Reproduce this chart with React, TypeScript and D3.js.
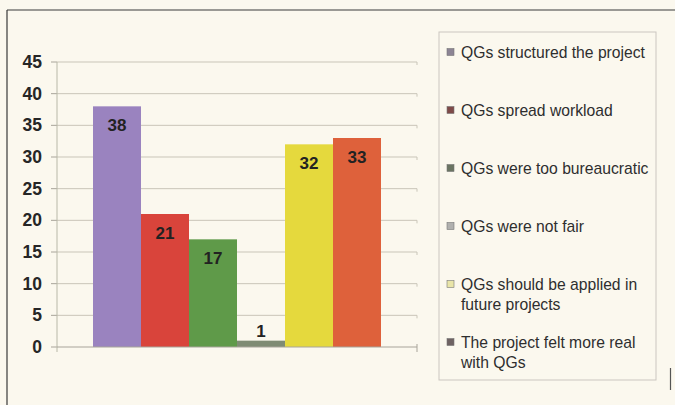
import React from "react";
import * as d3 from "d3";

const categories = [
  "QGs structured the project",
  "QGs spread workload",
  "QGs were too bureaucratic",
  "QGs were not fair",
  "QGs should be applied in future projects",
  "The project felt more real with QGs",
];
const values = [38, 21, 17, 1, 32, 33];
const barColors = ["#9a83bf", "#d9443b", "#5f9a49", "#7f8c74", "#e5d93d", "#de613b"];
const legendLines = [
  ["QGs structured the project"],
  ["QGs spread workload"],
  ["QGs were too bureaucratic"],
  ["QGs were not fair"],
  ["QGs should be applied in", "future projects"],
  ["The project felt more real", "with QGs"],
];
const legendSwatch = ["#8c8494", "#7e4a48", "#6a7462", "#b0b0ae", "#e9e5a8", "#6e6262"];
const yTicks = [0, 5, 10, 15, 20, 25, 30, 35, 40, 45];

export default function App() {
  const W = 675, H = 405;
  const plotL = 57, plotR = 417, plotT = 62, plotB = 347;
  const y = d3.scaleLinear().domain([0, 45]).range([plotB, plotT]);
  const x = d3
    .scaleBand<string>()
    .domain(categories)
    .range([plotL, plotR])
    .paddingInner(0)
    .paddingOuter(0.75);
  const font = "'Liberation Sans', Arial, sans-serif";

  return (
    <svg
      width={W}
      height={H}
      style={{ position: "absolute", left: 0, top: 0, background: "#fbf8ee" }}
      fontFamily={font}
    >
      <rect x={0} y={0} width={W} height={H} fill="#fbf8ee" />
      {/* outer frame */}
      <line x1={7} y1={10} x2={W} y2={10} stroke="#3a3a3a" strokeWidth={1.2} />
      <line x1={7} y1={10} x2={7} y2={H} stroke="#3a3a3a" strokeWidth={1.2} />
      <line x1={670.5} y1={368} x2={670.5} y2={390} stroke="#555" strokeWidth={1.2} />

      {/* gridlines */}
      {yTicks.map((t) => (
        <g key={t}>
          {t > 0 && (
            <line x1={plotL} x2={plotR} y1={y(t)} y2={y(t)} stroke="#c9c5b8" strokeWidth={1} />
          )}
          {t > 0 && (
            <line x1={plotR} x2={plotR} y1={y(t)} y2={y(t) + 3} stroke="#c9c5b8" strokeWidth={1} />
          )}
          <line x1={plotL - 6} x2={plotL} y1={y(t)} y2={y(t)} stroke="#a8a49a" strokeWidth={1} />
          <text
            x={42}
            y={y(t)}
            textAnchor="end"
            dominantBaseline="central"
            fontSize={17.5}
            fontWeight="bold"
            fill="#262626"
          >
            {t}
          </text>
        </g>
      ))}
      {/* y axis */}
      <line x1={plotL} x2={plotL} y1={plotT} y2={plotB + 5} stroke="#b8b8a8" strokeWidth={1} />

      {/* bars */}
      {categories.map((c, i) => {
        const bx = x(c)!;
        const bw = x.bandwidth();
        const top = y(values[i]);
        const inside = plotB - top > 30;
        return (
          <g key={c}>
            <rect x={bx} y={top} width={bw} height={plotB - top} fill={barColors[i]} />
            <text
              x={bx + bw / 2}
              y={inside ? top + 19 : top - 9}
              textAnchor="middle"
              dominantBaseline="central"
              fontSize={17}
              fontWeight="bold"
              fill="#222"
            >
              {values[i]}
            </text>
          </g>
        );
      })}
      {/* x axis */}
      <line x1={plotL} x2={plotR} y1={plotB} y2={plotB} stroke="#a8a49a" strokeWidth={1} />
      <line x1={plotR} x2={plotR} y1={plotB - 3} y2={plotB + 5} stroke="#a8a49a" strokeWidth={1} />

      {/* legend */}
      <rect x={439} y={32} width={217} height={348} fill="none" stroke="#cbc6c0" strokeWidth={1} />
      {legendLines.map((lines, i) => {
        const cy = 52 + i * 58;
        return (
          <g key={i}>
            <rect
              x={447}
              y={cy - 3.5}
              width={7}
              height={7}
              fill={legendSwatch[i]}
              stroke="#777"
              strokeWidth={0.6}
            />
            {lines.map((ln, j) => (
              <text
                key={j}
                x={461}
                y={cy + j * 20.5}
                dominantBaseline="central"
                fontSize={15.7}
                fill="#2e2e2e"
              >
                {ln}
              </text>
            ))}
          </g>
        );
      })}
    </svg>
  );
}
